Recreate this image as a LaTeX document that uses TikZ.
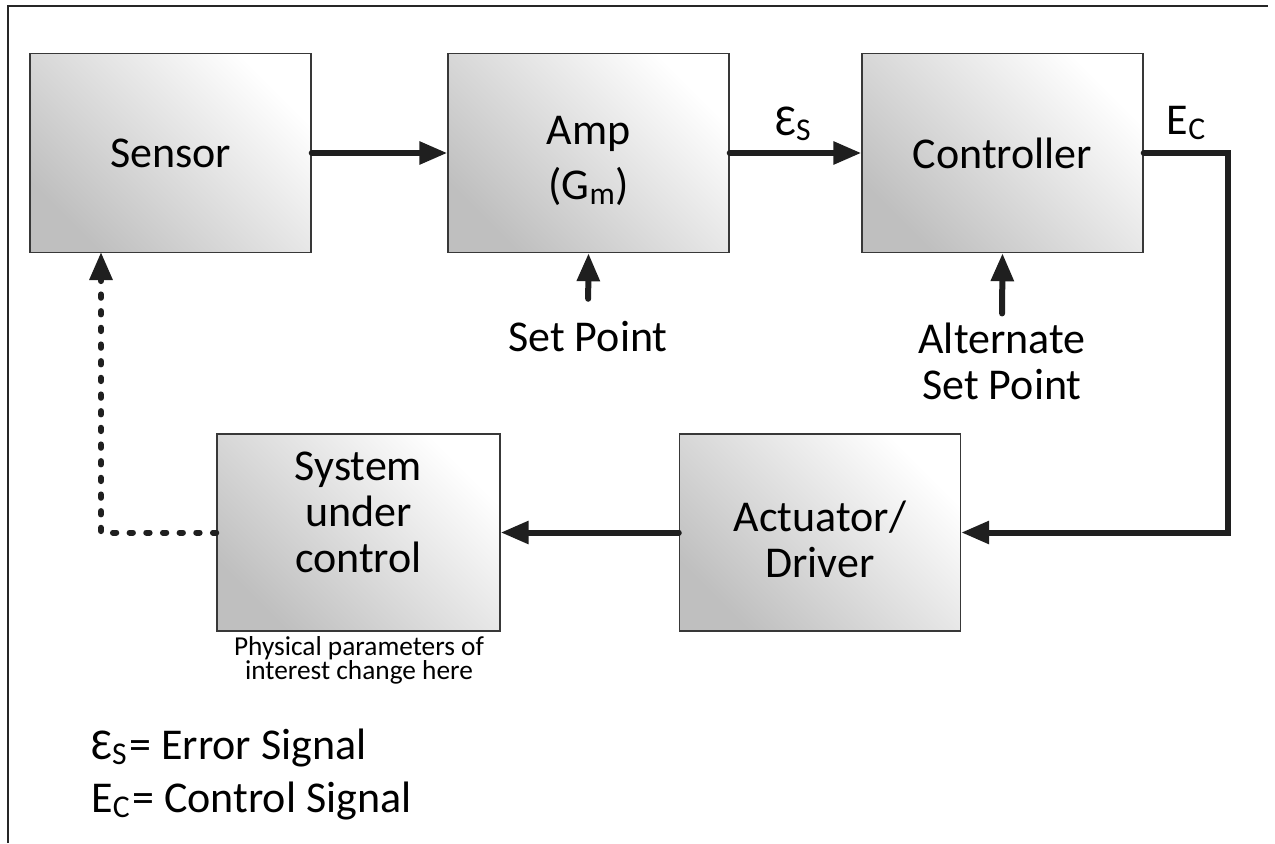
\documentclass[tikz,border=0pt]{standalone}
\usepackage{fontspec}
\setmainfont{Carlito}
\usetikzlibrary{arrows.meta}
\newcommand\bigf{\fontsize{33}{34.5}\selectfont}
\newcommand\smallf{\fontsize{20.5}{18}\selectfont\lineskiplimit=-20pt}
\newcommand\sbs[1]{\raisebox{-0.25ex}{\scalebox{0.72}{#1}}}
\newcommand\lines[2]{\raisebox{#1}[0pt][0pt]{\begin{tabular}[t]{@{}c@{}}#2\end{tabular}}}
\begin{document}
\begin{tikzpicture}[x=0.75pt,y=-0.75pt,
  blk/.style={draw=black!78, line width=1.1pt, bottom color=black!25, top color=white,
    shading angle=-45, minimum width=210.75pt, minimum height=149.25pt,
    inner sep=0pt, align=center, font=\bigf},
  wire/.style={line width=4.5pt, draw=black!88, line cap=round, line join=miter,
    -{Triangle[length=21pt,width=16.5pt]}},
  dots/.style={line width=4.5pt, draw=black!88, line cap=round,
    dash pattern=on 2.5pt off 10pt, -{Triangle[length=21pt,width=16.5pt]}},
  txt/.style={font=\bigf, inner sep=0pt, align=center}]
\useasboundingbox (0,0) rectangle (1275,843);
\fill[white] (0,0) rectangle (1275,843);
\draw[line width=1.5pt, black!85] (8,843) -- (8,6) -- (1268,6);

\node[blk] (sensor) at (170.5,153) {Sensor};
\node[blk] (amp) at (588.5,153) {\lines{6.65pt}{Amp\\[7pt](G\sbs{m})}};
\node[blk] (ctrl) at (1002.5,153) {Controller};
\node[blk, minimum width=212.25pt, minimum height=147.75pt] (sys) at (358.5,532.5)
  {\lines{39.3pt}{System\\under\\control}};
\node[blk, minimum height=147.75pt] (act) at (820,532.5) {\lines{1pt}{Actuator/\\Driver}};

\node[txt] (es) at (793,124) {Ɛ\sbs{S}};
\node[txt] (ec) at (1186,123) {E\sbs{C}};
\node[txt] (sp) at (588,337) {Set Point};
\node[txt] (asp) at (1002,361.5) {Alternate\\Set Point};
\node[font=\smallf, inner sep=0pt, align=center] (note) at (359,660)
  {Physical parameters of\\interest change here};
\node[txt, anchor=west] (leg1) at (91,748) {Ɛ\sbs{S}\kern2pt= Error Signal};
\node[txt, anchor=west] (leg2) at (91,801) {E\sbs{C}\kern2pt= Control Signal};

\coordinate (ecc) at (1228,153);
\coordinate (fb) at (101,252);

\draw[wire] (sensor.east) -- (amp.west);
\draw[wire] (amp.east) -- (ctrl.west);
\draw[wire] (ctrl.east) -- (ecc) |- (act.east);
\draw[wire] (act.west) -- (sys.east);
\draw[dots] (sys.west) -| (fb);
\draw[wire, shorten <=17pt] (sp.north) -- (amp.south);
\draw[wire, shorten <=7pt] (asp.north) -- (ctrl.south);
\end{tikzpicture}
\end{document}
